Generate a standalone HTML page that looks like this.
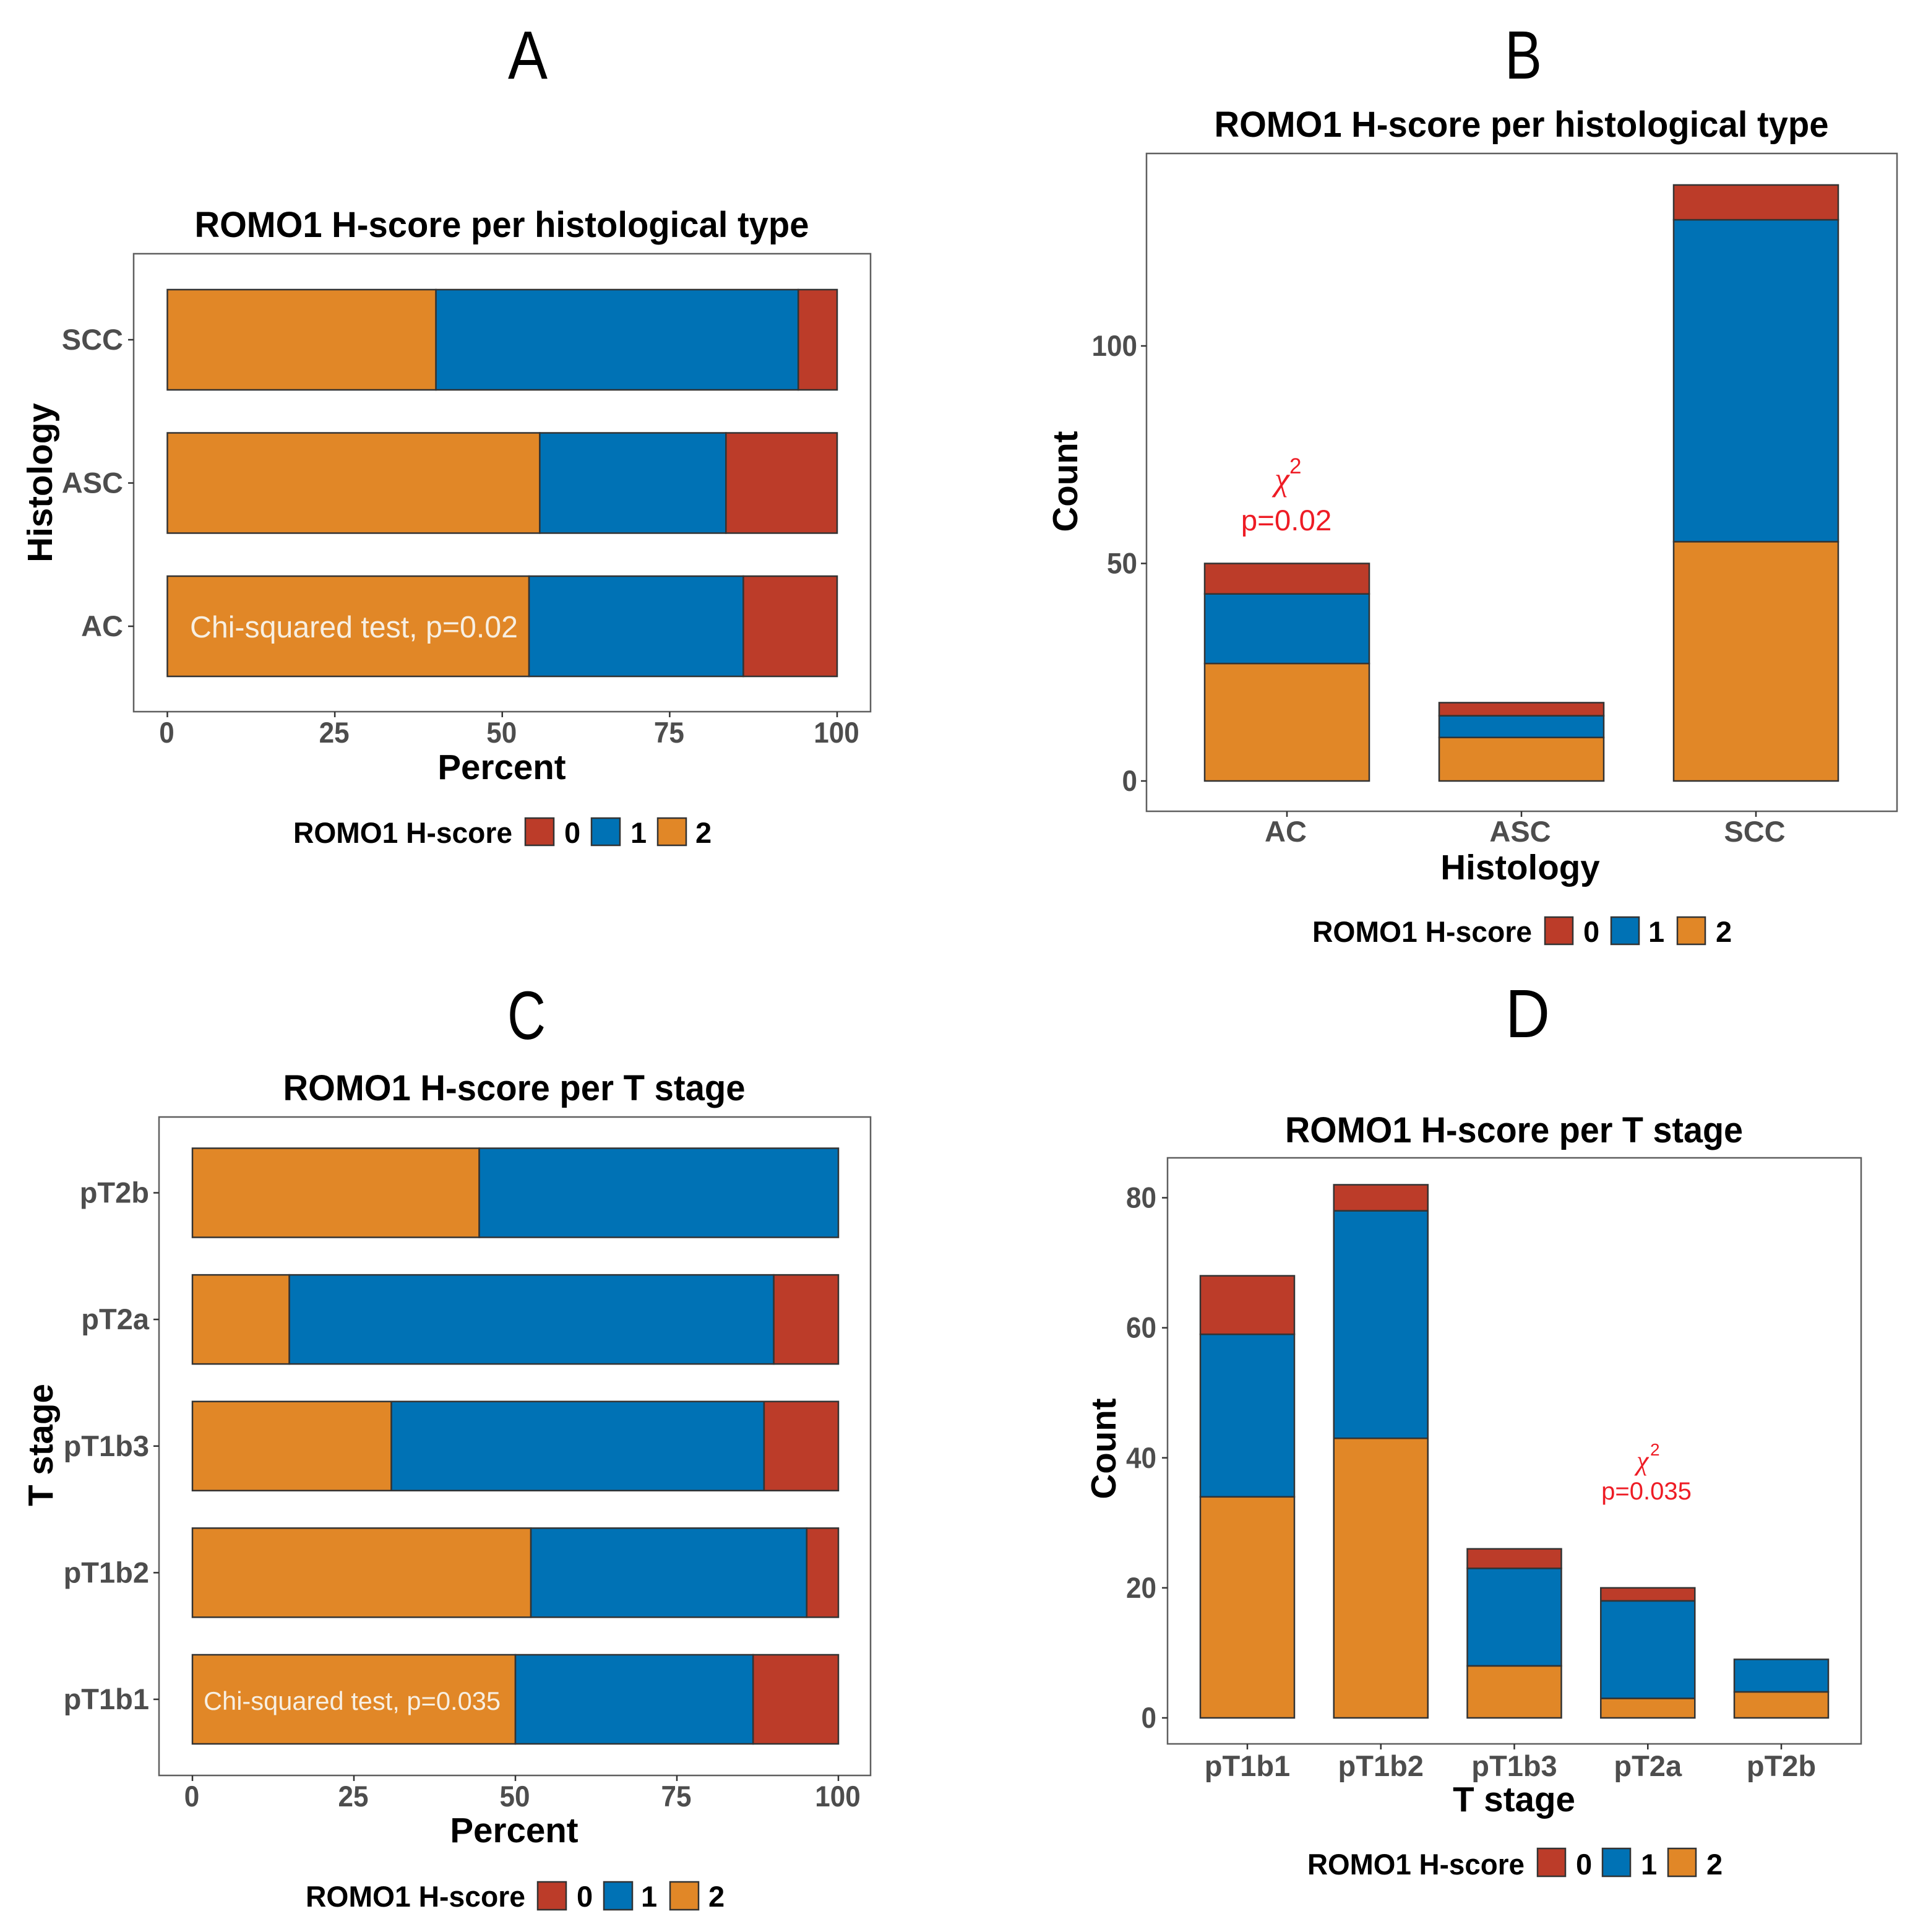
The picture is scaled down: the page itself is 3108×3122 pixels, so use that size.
<!DOCTYPE html>
<html>
<head>
<meta charset="utf-8">
<title>ROMO1 H-score charts</title>
<style>
html,body{margin:0;padding:0;background:#fff;}
svg{display:block;}
text{font-family:"Liberation Sans",sans-serif;}
.title,.axt,.lgt,.lgl{font-weight:bold;fill:#000;}
.title{font-size:58px;}
.axt{font-size:56.5px;}
.lgt{font-size:47px;}
.lgl{font-size:47px;}
.tick{font-weight:bold;font-size:47px;fill:#4d4d4d;}
.letter{font-size:110px;fill:#000;}
.frame{fill:none;stroke:#5f5f5f;stroke-width:2.5;}
.sw{stroke:#333;stroke-width:2.5;}
.red{fill:#ee1c25;}
.chi{font-family:"Liberation Serif",serif;font-style:italic;}
</style>
</head>
<body>
<svg id="figure" xmlns="http://www.w3.org/2000/svg" width="3108" height="3122" viewBox="0 0 3108 3122">
<rect width="3108" height="3122" fill="#fff"/>

<g id="panel-a">
<text class="letter" x="821" y="127" textLength="64" lengthAdjust="spacingAndGlyphs">A</text>
<text class="title" x="811" y="383" text-anchor="middle" textLength="993" lengthAdjust="spacingAndGlyphs">ROMO1 H-score per histological type</text>
<rect class="frame" x="216" y="410" width="1191" height="740"/>
<g id="marks-a"></g>
<text x="307" y="1030" fill="#f7efe2" font-size="49" textLength="530" lengthAdjust="spacingAndGlyphs">Chi-squared test, p=0.02</text>
<text class="axt" x="811" y="1259" text-anchor="middle">Percent</text>
<text class="axt" transform="translate(84,780) rotate(-90)" text-anchor="middle">Histology</text>
<text class="lgt" x="474" y="1362" textLength="354" lengthAdjust="spacingAndGlyphs">ROMO1 H-score</text>
<rect class="sw" x="849" y="1322" width="46" height="44" fill="#BC3C29"/>
<text class="lgl" x="912" y="1362">0</text>
<rect class="sw" x="956" y="1322" width="46" height="44" fill="#0072B5"/>
<text class="lgl" x="1019" y="1362">1</text>
<rect class="sw" x="1063" y="1322" width="46" height="44" fill="#E18727"/>
<text class="lgl" x="1124" y="1362">2</text>
</g>

<g id="panel-b">
<text class="letter" x="2432" y="127" textLength="60" lengthAdjust="spacingAndGlyphs">B</text>
<text class="title" x="2459" y="221" text-anchor="middle" textLength="993" lengthAdjust="spacingAndGlyphs">ROMO1 H-score per histological type</text>
<rect class="frame" x="1853" y="248" width="1213" height="1063"/>
<g id="marks-b"></g>
<text class="red chi" x="2060" y="792" font-size="54">χ</text>
<text class="red" x="2084" y="765" font-size="35">2</text>
<text class="red" x="2079" y="857" font-size="47.5" text-anchor="middle">p=0.02</text>
<text class="axt" x="2457" y="1421" text-anchor="middle">Histology</text>
<text class="axt" transform="translate(1741,778) rotate(-90)" text-anchor="middle">Count</text>
<text class="lgt" x="2121" y="1522" textLength="355" lengthAdjust="spacingAndGlyphs">ROMO1 H-score</text>
<rect class="sw" x="2497" y="1482" width="45" height="44" fill="#BC3C29"/>
<text class="lgl" x="2559" y="1522">0</text>
<rect class="sw" x="2604" y="1482" width="45" height="44" fill="#0072B5"/>
<text class="lgl" x="2664" y="1522">1</text>
<rect class="sw" x="2711" y="1482" width="45" height="44" fill="#E18727"/>
<text class="lgl" x="2773" y="1522">2</text>
</g>

<g id="panel-c">
<text class="letter" x="820" y="1679" textLength="62" lengthAdjust="spacingAndGlyphs">C</text>
<text class="title" x="831" y="1778" text-anchor="middle" textLength="747" lengthAdjust="spacingAndGlyphs">ROMO1 H-score per T stage</text>
<rect class="frame" x="257" y="1805" width="1150" height="1064"/>
<g id="marks-c"></g>
<text x="329" y="2763" fill="#f7efe2" font-size="42" textLength="480" lengthAdjust="spacingAndGlyphs">Chi-squared test, p=0.035</text>
<text class="axt" x="831" y="2977" text-anchor="middle">Percent</text>
<text class="axt" transform="translate(85,2335) rotate(-90)" text-anchor="middle">T stage</text>
<text class="lgt" x="494" y="3081" textLength="355" lengthAdjust="spacingAndGlyphs">ROMO1 H-score</text>
<rect class="sw" x="869" y="3041" width="46" height="45" fill="#BC3C29"/>
<text class="lgl" x="932" y="3081">0</text>
<rect class="sw" x="976" y="3041" width="46" height="45" fill="#0072B5"/>
<text class="lgl" x="1036" y="3081">1</text>
<rect class="sw" x="1083" y="3041" width="46" height="45" fill="#E18727"/>
<text class="lgl" x="1145" y="3081">2</text>
</g>

<g id="panel-d">
<text class="letter" x="2433" y="1676" textLength="72" lengthAdjust="spacingAndGlyphs">D</text>
<text class="title" x="2447" y="1846" text-anchor="middle" textLength="740" lengthAdjust="spacingAndGlyphs">ROMO1 H-score per T stage</text>
<rect class="frame" x="1887" y="1871" width="1121" height="947"/>
<g id="marks-d"></g>
<text class="red chi" x="2645" y="2375" font-size="44">χ</text>
<text class="red" x="2667" y="2352" font-size="28">2</text>
<text class="red" x="2661" y="2423" font-size="40" text-anchor="middle">p=0.035</text>
<text class="axt" x="2447" y="2927" text-anchor="middle">T stage</text>
<text class="axt" transform="translate(1803,2341) rotate(-90)" text-anchor="middle">Count</text>
<text class="lgt" x="2113" y="3029" textLength="351" lengthAdjust="spacingAndGlyphs">ROMO1 H-score</text>
<rect class="sw" x="2485" y="2987" width="45" height="45" fill="#BC3C29"/>
<text class="lgl" x="2547" y="3029">0</text>
<rect class="sw" x="2590" y="2987" width="45" height="45" fill="#0072B5"/>
<text class="lgl" x="2652" y="3029">1</text>
<rect class="sw" x="2696" y="2987" width="45" height="45" fill="#E18727"/>
<text class="lgl" x="2758" y="3029">2</text>
</g>
</svg>

<script>
// Categories
const histologyCategories = ['AC', 'ASC', 'SCC'];
const stageCategories = ['pT1b1', 'pT1b2', 'pT1b3', 'pT2a', 'pT2b'];

// Panel A: percent per histology
const histologyPercentScore2 = [54, 55.6, 40.1];
const histologyPercentScore1 = [32, 27.8, 54.1];
const histologyPercentScore0 = [14, 16.6, 5.8];

// Panel B: count per histology
const histologyCountScore2 = [27, 10, 55];
const histologyCountScore1 = [16, 5, 74];
const histologyCountScore0 = [7, 3, 8];

// Panel C: percent per T stage
const stagePercentScore2 = [50, 52.4, 30.8, 15, 44.4];
const stagePercentScore1 = [36.8, 42.7, 57.7, 75, 55.6];
const stagePercentScore0 = [13.2, 4.9, 11.5, 10, 0];

// Panel D: count per T stage
const stageCountScore2 = [34, 43, 8, 3, 4];
const stageCountScore1 = [25, 35, 15, 15, 5];
const stageCountScore0 = [9, 4, 3, 2, 0];

// Tick labels
const percentTicks = [0, 25, 50, 75, 100];
const histologyCountTicks = [0, 50, 100];
const stageCountTicks = [0, 20, 40, 60, 80];

const RED = '#BC3C29', BLUE = '#0072B5', ORANGE = '#E18727';
const NS = 'http://www.w3.org/2000/svg';
const DIGIT_WIDTH = 24.5;

function linear(d0, d1, r0, r1) {
  return function (v) { return r0 + (v - d0) * (r1 - r0) / (d1 - d0); };
}
function make(parent, tag, attrs, txt) {
  const el = document.createElementNS(NS, tag);
  for (const k in attrs) el.setAttribute(k, attrs[k]);
  if (txt !== undefined) el.textContent = txt;
  parent.appendChild(el);
  return el;
}
function segment(parent, x, y, w, h, fill, cat, score) {
  const el = make(parent, 'rect', {x: x, y: y, width: w, height: h, fill: fill, stroke: '#333', 'stroke-width': 2.5});
  
  
}
function tickMark(parent, x1, y1, x2, y2) {
  const el = make(parent, 'line', {x1: x1, y1: y1, x2: x2, y2: y2, stroke: '#333', 'stroke-width': 2.5});
  
  
}
function tickLabel(parent, x, y, anchor, label, numeric) {
  const attrs = {x: x, y: y, 'text-anchor': anchor, 'class': 'tick'};
  if (numeric) {
    attrs.textLength = label.length * DIGIT_WIDTH;
    attrs.lengthAdjust = 'spacingAndGlyphs';
  }
  const el = make(parent, 'text', attrs, label);
  
  
}

function drawHorizontal(id, cats, s2, s1, s0, ticks, xS, yS, half, frameBottom, frameLeft, tickBase, labelRight) {
  const g = document.getElementById(id);
  cats.forEach(function (c, i) {
    const y = yS(i) - half, h = half * 2;
    let a = 0;
    [[s2[i], ORANGE, 2], [s1[i], BLUE, 1], [s0[i], RED, 0]].forEach(function (p) {
      if (p[0] > 0) segment(g, xS(a), y, xS(a + p[0]) - xS(a), h, p[1], c, p[2]);
      a += p[0];
    });
    tickMark(g, frameLeft - 9, yS(i), frameLeft, yS(i));
    tickLabel(g, labelRight, yS(i) + 16, 'end', c, false);
  });
  ticks.forEach(function (t) {
    tickMark(g, xS(t), frameBottom, xS(t), frameBottom + 9);
    tickLabel(g, xS(t) - 1, tickBase, 'middle', String(t), true);
  });
}

function drawVertical(id, cats, s2, s1, s0, ticks, xS, yS, half, frameBottom, frameLeft, tickBase, labelRight, labelShift) {
  const g = document.getElementById(id);
  cats.forEach(function (c, i) {
    const x = xS(i) - half, w = half * 2;
    let a = 0;
    [[s2[i], ORANGE, 2], [s1[i], BLUE, 1], [s0[i], RED, 0]].forEach(function (p) {
      if (p[0] > 0) segment(g, x, yS(a + p[0]), w, yS(a) - yS(a + p[0]), p[1], c, p[2]);
      a += p[0];
    });
    tickMark(g, xS(i), frameBottom, xS(i), frameBottom + 9);
    tickLabel(g, xS(i) + labelShift, tickBase, 'middle', c, false);
  });
  ticks.forEach(function (t) {
    tickMark(g, frameLeft - 9, yS(t), frameLeft, yS(t));
    tickLabel(g, labelRight, yS(t) + 16, 'end', String(t), true);
  });
}

drawHorizontal('marks-a', histologyCategories, histologyPercentScore2, histologyPercentScore1, histologyPercentScore0, percentTicks,
  linear(0, 100, 270.5, 1353), linear(0, 2, 1012, 549), 81, 1150, 216, 1200, 199);
drawVertical('marks-b', histologyCategories, histologyCountScore2, histologyCountScore1, histologyCountScore0, histologyCountTicks,
  linear(0, 2, 2080, 2838), linear(0, 100, 1262, 559), 133, 1311, 1853, 1360, 1838, -2);
drawHorizontal('marks-c', stageCategories, stagePercentScore2, stagePercentScore1, stagePercentScore0, percentTicks,
  linear(0, 100, 311, 1355), linear(0, 4, 2746, 1927.5), 72, 2869, 257, 2919, 241);
drawVertical('marks-d', stageCategories, stageCountScore2, stageCountScore1, stageCountScore0, stageCountTicks,
  linear(0, 4, 2016, 2879), linear(0, 80, 2776, 1935.5), 76, 2818, 1887, 2870, 1869, 0);
</script>
</body>
</html>
